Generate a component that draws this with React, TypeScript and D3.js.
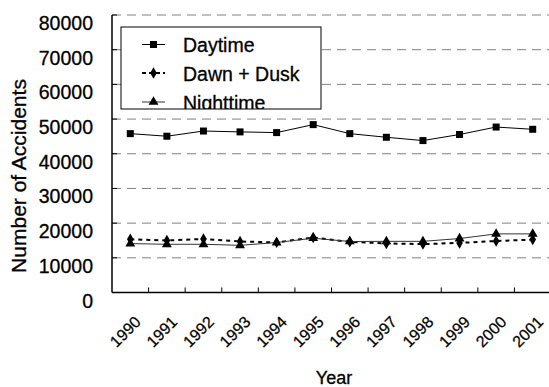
import React from "react";
import * as d3 from "d3";

const years = ["1990","1991","1992","1993","1994","1995","1996","1997","1998","1999","2000","2001"];
const daytime = [45800, 45050, 46550, 46300, 46100, 48400, 45800, 44750, 43800, 45550, 47700, 47050];
const dawnDusk = [15350, 15000, 15450, 14700, 14450, 15850, 14600, 14150, 13950, 14300, 14850, 15250];
const nighttime = [14100, 13900, 13900, 13600, 14400, 15650, 14700, 14750, 14750, 15550, 16900, 16900];
const yTicks = [0, 10000, 20000, 30000, 40000, 50000, 60000, 70000, 80000];
const legendLabels = ["Daytime", "Dawn + Dusk", "Nighttime"];

const W = 549, H = 387;
const L = 112, R = 551, T = 15, B = 292.5;
const FONT = "'Liberation Sans', Arial, sans-serif";

export default function App() {
  const x = d3.scaleBand().domain(years).range([L, R]).padding(0);
  const y = d3.scaleLinear().domain([0, 80000]).range([B, T]);
  const cx = (i: number) => (x(years[i]) as number) + x.bandwidth() / 2;
  const line = d3.line<number>().x((_, i) => cx(i)).y((v) => y(v));
  const sq = d3.symbol().type(d3.symbolSquare).size(49)() as string;
  const dia = d3.symbol().type(d3.symbolDiamond).size(38)() as string;
  const tri = d3.symbol().type(d3.symbolTriangle).size(42)() as string;

  const series = [
    { vals: daytime, path: sq, stroke: "#000", width: 1, dash: undefined as string | undefined },
    { vals: dawnDusk, path: dia, stroke: "#000", width: 2, dash: "4,4" },
    { vals: nighttime, path: tri, stroke: "#333", width: 1, dash: undefined },
  ];

  const legX = 121, legY = 27, legW = 200, legH = 82;
  const legRows = [44.5, 73, 102];
  const legBase = [52, 81, 110];

  return (
    <div style={{ position: "absolute", left: 0, top: 0, width: W, height: H, overflow: "hidden", background: "#fff" }}>
      <svg width={W} height={H} style={{ display: "block", fontFamily: FONT }}>
        <rect x={0} y={0} width={W} height={H} fill="#fff" />
        <defs>
          <clipPath id="legclip">
            <rect x={legX} y={legY} width={legW} height={legH} />
          </clipPath>
        </defs>
        {yTicks.filter((t) => t > 0).map((t) => (
          <line key={t} x1={L} x2={R} y1={y(t)} y2={y(t)} stroke="#808080" strokeWidth={1} strokeDasharray="9,6" />
        ))}
        <line x1={L} x2={L} y1={T} y2={B} stroke="#000" strokeWidth={1.5} />
        <line x1={L} x2={R} y1={B} y2={B} stroke="#000" strokeWidth={1.5} />
        {yTicks.map((t) => (
          <g key={t}>
            <line x1={L} x2={L + 5} y1={y(t)} y2={y(t)} stroke="#000" />
            <text x={93} y={y(t) + 15} textAnchor="end" fontSize={19.5} fill="#000" stroke="#000" strokeWidth={0.3}>{t}</text>
          </g>
        ))}
        {years.map((yr, i) => (
          <g key={yr}>
            {i > 0 && <line x1={x(yr)} x2={x(yr)} y1={B} y2={B - 5} stroke="#000" />}
            <text transform={`translate(${cx(i) + 11.5},323) rotate(-45)`} textAnchor="end" fontSize={16} fill="#000" stroke="#000" strokeWidth={0.25}>{yr}</text>
          </g>
        ))}
        <text transform={`translate(26,176) rotate(-90)`} textAnchor="middle" fontSize={21} fill="#000" stroke="#000" strokeWidth={0.3}>Number of Accidents</text>
        <text x={334} y={384} textAnchor="middle" fontSize={18} fill="#000" stroke="#000" strokeWidth={0.3}>Year</text>
        {series.map((s, k) => (
          <g key={k}>
            <path d={line(s.vals) as string} fill="none" stroke={s.stroke} strokeWidth={s.width} strokeDasharray={s.dash} />
            {s.vals.map((v, i) => (
              <path key={i} d={s.path} transform={`translate(${cx(i)},${y(v)})`} fill="#000" />
            ))}
          </g>
        ))}
        <rect x={legX} y={legY} width={legW} height={legH} fill="#fff" stroke="none" />
        <g clipPath="url(#legclip)">
          {series.map((s, k) => (
            <g key={k}>
              <line x1={142} x2={165} y1={legRows[k]} y2={legRows[k]} stroke={s.stroke} strokeWidth={s.width} strokeDasharray={s.dash ? "4,3" : undefined} />
              <path d={s.path} transform={`translate(153.5,${legRows[k]})`} fill="#000" />
              <text x={183} y={legBase[k]} fontSize={19.5} fill="#000" stroke="#000" strokeWidth={0.3}>{legendLabels[k]}</text>
            </g>
          ))}
        </g>
        <rect x={legX} y={legY} width={legW} height={legH} fill="none" stroke="#000" strokeWidth={1} />
      </svg>
    </div>
  );
}
